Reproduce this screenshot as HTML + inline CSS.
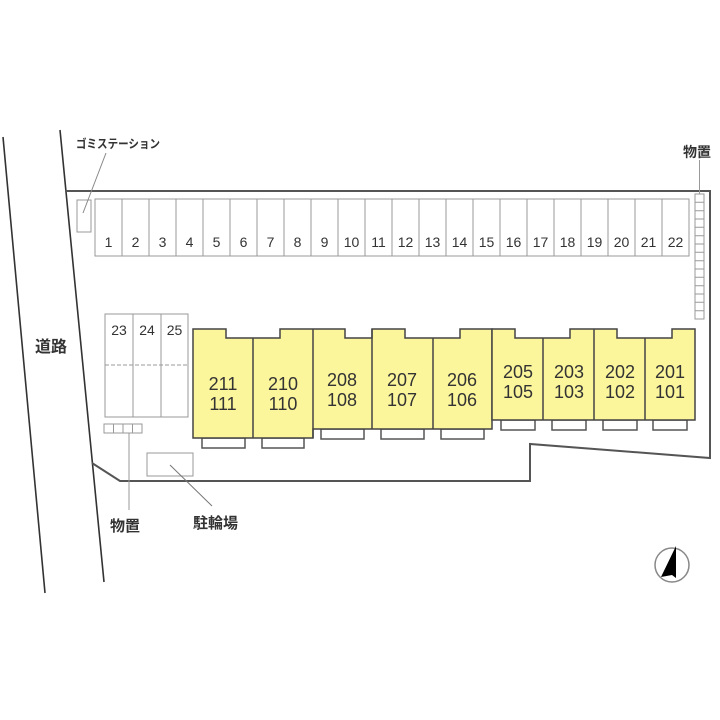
<!DOCTYPE html>
<html><head><meta charset="utf-8"><style>
html,body{margin:0;padding:0;background:#fff;}
svg{display:block;}
text{font-family:"Liberation Sans","Noto Sans CJK JP",sans-serif;fill:#333;}
</style></head><body>
<svg width="720" height="720" viewBox="0 0 720 720" xmlns="http://www.w3.org/2000/svg">
<line x1="3" y1="137" x2="45" y2="593" stroke="#333" stroke-width="1.6"/>
<line x1="60" y1="130" x2="104" y2="582" stroke="#333" stroke-width="1.6"/>
<text x="35" y="352" font-size="16" font-weight="bold">道路</text>
<polyline points="65,191 710,191 710,458 530,444 530,481 120,481 92,463" fill="none" stroke="#555" stroke-width="2"/>
<rect x="77" y="200" width="14" height="32" fill="none" stroke="#999" stroke-width="1"/>
<line x1="106" y1="153" x2="83" y2="213" stroke="#888" stroke-width="1"/>
<text x="76" y="148" font-size="12" font-weight="bold" textLength="84" lengthAdjust="spacingAndGlyphs">ゴミステーション</text>
<g stroke="#999" stroke-width="1" fill="none">
<rect x="95" y="199" width="594" height="57"/>
<path d="M122,199V256M149,199V256M176,199V256M203,199V256M230,199V256M257,199V256M284,199V256M311,199V256M338,199V256M365,199V256M392,199V256M419,199V256M446,199V256M473,199V256M500,199V256M527,199V256M554,199V256M581,199V256M608,199V256M635,199V256M662,199V256"/>
</g>
<g font-size="14" text-anchor="middle">
<text x="108.5" y="247">1</text><text x="135.5" y="247">2</text><text x="162.5" y="247">3</text><text x="189.5" y="247">4</text><text x="216.5" y="247">5</text><text x="243.5" y="247">6</text><text x="270.5" y="247">7</text><text x="297.5" y="247">8</text><text x="324.5" y="247">9</text><text x="351.5" y="247">10</text><text x="378.5" y="247">11</text><text x="405.5" y="247">12</text><text x="432.5" y="247">13</text><text x="459.5" y="247">14</text><text x="486.5" y="247">15</text><text x="513.5" y="247">16</text><text x="540.5" y="247">17</text><text x="567.5" y="247">18</text><text x="594.5" y="247">19</text><text x="621.5" y="247">20</text><text x="648.5" y="247">21</text><text x="675.5" y="247">22</text>
</g>
<g stroke="#999" stroke-width="1" fill="none">
<rect x="695" y="194" width="9" height="125"/>
<path d="M695,202.3H704M695,210.7H704M695,219H704M695,227.3H704M695,235.7H704M695,244H704M695,252.3H704M695,260.7H704M695,269H704M695,277.3H704M695,285.7H704M695,294H704M695,302.3H704M695,310.7H704"/>
<line x1="699.5" y1="160" x2="699.5" y2="194"/>
</g>
<text x="683" y="157" font-size="14" font-weight="bold">物置</text>
<g stroke="#999" stroke-width="1" fill="none">
<rect x="105" y="314" width="83" height="103"/>
<path d="M133,314V417M161,314V417"/>
<line x1="105" y1="365" x2="188" y2="365" stroke-dasharray="4,2"/>
<rect x="104" y="424" width="38" height="9"/>
<path d="M113.5,424V433M123,424V433M132.5,424V433"/>
<line x1="129" y1="433" x2="129" y2="510"/>
<rect x="147" y="453" width="46" height="23"/>
<line x1="170" y1="465" x2="212" y2="506" stroke="#777"/>
</g>
<g font-size="14" text-anchor="middle">
<text x="119" y="335">23</text><text x="147" y="335">24</text><text x="174.5" y="335">25</text>
</g>
<text x="110" y="531" font-size="15" font-weight="bold">物置</text>
<text x="193" y="528" font-size="15" font-weight="bold">駐輪場</text>
<g stroke="#555" stroke-width="1.5" fill="#fff">
<rect x="202" y="438" width="43" height="10"/>
<rect x="262" y="438" width="42" height="10"/>
<rect x="321" y="429" width="43" height="10"/>
<rect x="381" y="429" width="43" height="10"/>
<rect x="441" y="429" width="43" height="10"/>
<rect x="501" y="420" width="34" height="10"/>
<rect x="552" y="420" width="34" height="10"/>
<rect x="603" y="420" width="34" height="10"/>
<rect x="653" y="420" width="34" height="10"/>
</g>
<g stroke="#444" stroke-width="1.5" fill="#fbf59c">
<polygon points="193,329 226,329 226,338 280,338 280,329 345,329 345,338 372,338 372,329 405,329 405,338 460,338 460,329 492,329 492,429 313,429 313,438 193,438"/>
<polygon points="492,329 515,329 515,338 570,338 570,329 617,329 617,338 672,338 672,329 695,329 695,420 492,420"/>
</g>
<g stroke="#444" stroke-width="1.5">
<line x1="253" y1="338" x2="253" y2="438"/>
<line x1="313" y1="329" x2="313" y2="438"/>
<line x1="372" y1="329" x2="372" y2="429"/>
<line x1="433" y1="338" x2="433" y2="429"/>
<line x1="543" y1="338" x2="543" y2="420"/>
<line x1="594" y1="329" x2="594" y2="420"/>
<line x1="645" y1="338" x2="645" y2="420"/>
</g>
<g font-size="18" text-anchor="middle">
<text x="223" y="390">211</text><text x="223" y="410">111</text>
<text x="283" y="390">210</text><text x="283" y="410">110</text>
<text x="342" y="386">208</text><text x="342" y="406">108</text>
<text x="402" y="386">207</text><text x="402" y="406">107</text>
<text x="462" y="386">206</text><text x="462" y="406">106</text>
<text x="518" y="378">205</text><text x="518" y="398">105</text>
<text x="569" y="378">203</text><text x="569" y="398">103</text>
<text x="620" y="378">202</text><text x="620" y="398">102</text>
<text x="670" y="378">201</text><text x="670" y="398">101</text>
</g>
<circle cx="672" cy="565" r="17" fill="none" stroke="#888" stroke-width="1.5"/>
<polygon points="676,546 676,578 672,575 661,577" fill="#000"/>
</svg>
</body></html>
